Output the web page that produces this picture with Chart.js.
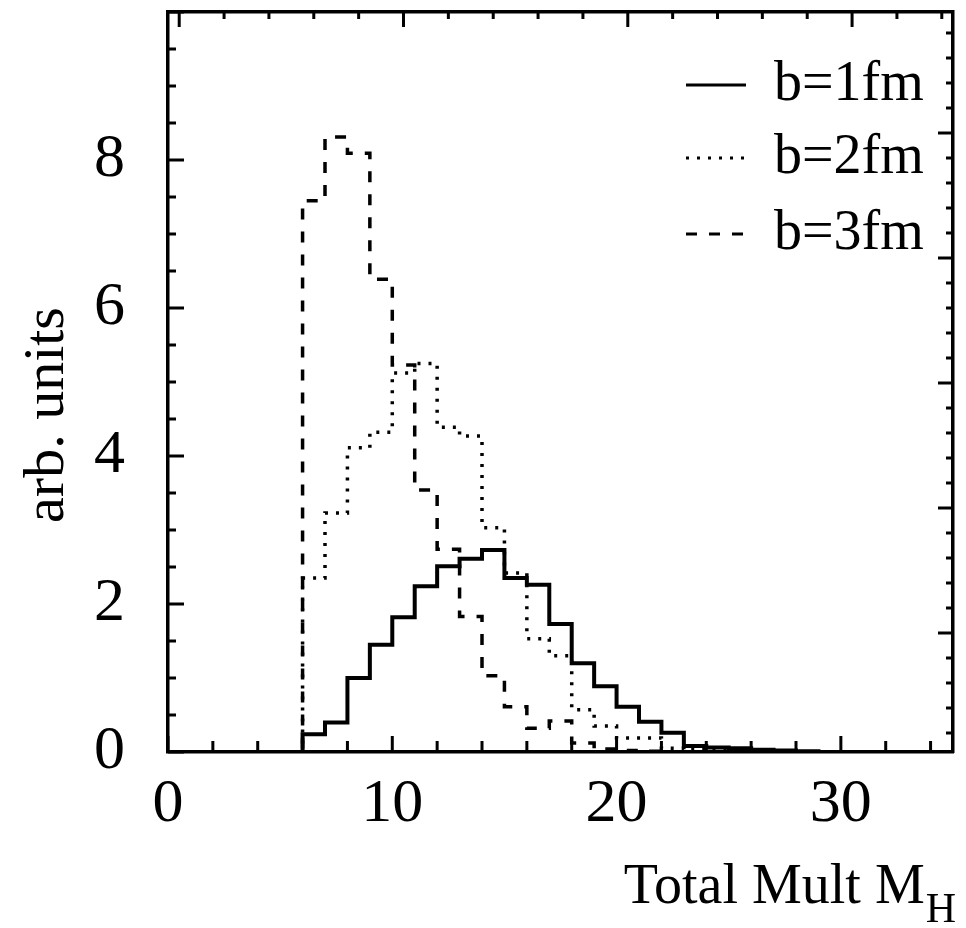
<!DOCTYPE html>
<html>
<head>
<meta charset="utf-8">
<title>Total Mult M_H</title>
<script src="https://cdn.jsdelivr.net/npm/chart.js@4/dist/chart.umd.min.js"></script>
<style>
  html, body { margin: 0; padding: 0; background: #fff; }
  #chart { display: block; }
</style>
</head>
<body>
<canvas id="chart" width="966" height="928"></canvas>
<script>
// lower edges of the multiplicity bins (last entry closes the final bin)
const multBins = [0, 1, 2, 3, 4, 5, 6, 7, 8, 9, 10, 11, 12, 13, 14, 15, 16, 17,
  18, 19, 20, 21, 22, 23, 24, 25, 26, 27, 28, 29, 30, 31, 32, 33, 34, 35];

// contents of each bin (arb. units)
const b1fm = [0, 0, 0, 0, 0, 0, 0.24, 0.40, 1.00, 1.45, 1.82, 2.24, 2.51, 2.61,
  2.73, 2.35, 2.26, 1.73, 1.20, 0.89, 0.61, 0.41, 0.26, 0.08, 0.06, 0.05, 0.03,
  0.02, 0.01, 0, 0, 0, 0, 0, 0];
const b2fm = [0, 0, 0, 0, 0, 0, 2.35, 3.23, 4.11, 4.32, 5.12, 5.25, 4.39, 4.27,
  3.03, 2.42, 1.53, 1.30, 0.57, 0.35, 0.19, 0.19, 0.05, 0.03, 0.02, 0.01, 0, 0,
  0, 0, 0, 0, 0, 0, 0];
const b3fm = [0, 0, 0, 0, 0, 0, 7.45, 8.31, 8.09, 6.39, 5.23, 3.54, 2.74, 1.83,
  1.03, 0.61, 0.32, 0.42, 0.12, 0.04, 0.02, 0.01, 0, 0, 0, 0, 0, 0, 0, 0, 0, 0,
  0, 0, 0];

const seriesLabels = ["b=1fm", "b=2fm", "b=3fm"];
const xTickLabels = [0, 10, 20, 30];
const yTickLabels = [0, 2, 4, 6, 8];

const FONT = '"Liberation Serif", "DejaVu Serif", serif';

// histogram -> step line points (value holds from its lower edge to the next)
function toSteps(values) {
  return multBins.map((x, i) => ({ x, y: values[Math.min(i, values.length - 1)] }));
}

function isMajor(v, every) {
  const r = v / every;
  return Math.abs(r - Math.round(r)) < 1e-6;
}

// no extra room for half labels at the ends of the axes
function noEndPadding(scale) {
  scale.paddingTop = 0;
  scale.paddingBottom = 0;
  scale.paddingLeft = 0;
  scale.paddingRight = 0;
}

// tick marks drawn inside the frame, like the original plot
const tickStyle = {
  x: { every: 10, majorLen: 16, minorLen: 11 },
  x2: { every: 10, majorLen: 15, minorLen: 7 },
  y: { every: 2, majorLen: 16, minorLen: 8 },
  y2: { every: 1, majorLen: 15, minorLen: 7 },
};

const innerTicks = {
  id: "innerTicks",
  afterDraw(chart) {
    const { ctx, chartArea: a } = chart;
    ctx.save();
    ctx.strokeStyle = "#000";
    ctx.lineWidth = 3;
    Object.keys(tickStyle).forEach((id) => {
      const s = tickStyle[id];
      const scale = chart.scales[id];
      scale.ticks.forEach((t) => {
        const len = isMajor(t.value, s.every) ? s.majorLen : s.minorLen;
        const p = scale.getPixelForValue(t.value);
        ctx.beginPath();
        if (scale.position === "bottom") {
          ctx.moveTo(p, a.bottom);
          ctx.lineTo(p, a.bottom - len);
        } else if (scale.position === "top") {
          ctx.moveTo(p, a.top);
          ctx.lineTo(p, a.top + len);
        } else if (scale.position === "left") {
          ctx.moveTo(a.left, p);
          ctx.lineTo(a.left + len, p);
        } else {
          ctx.moveTo(a.right, p);
          ctx.lineTo(a.right - len, p);
        }
        ctx.stroke();
      });
    });
    ctx.restore();
  },
};

// axis titles and the legend box in the upper right
const plotText = {
  id: "plotText",
  afterDraw(chart) {
    const ctx = chart.ctx;
    ctx.save();
    ctx.fillStyle = "#000";

    // y title
    ctx.font = `58px ${FONT}`;
    ctx.textAlign = "center";
    ctx.textBaseline = "middle";
    ctx.translate(48, 415);
    ctx.rotate(-Math.PI / 2);
    ctx.fillText("arb. units", 0, 0);
    ctx.setTransform(1, 0, 0, 1, 0, 0);

    // x title with subscript
    ctx.textBaseline = "alphabetic";
    ctx.textAlign = "right";
    ctx.font = `42px ${FONT}`;
    ctx.fillText("H", 956, 922);
    const hW = ctx.measureText("H").width;
    ctx.font = `56px ${FONT}`;
    ctx.fillText("Total Mult M", 956 - hW - 1, 903);

    // legend
    const rows = [85, 158, 234];
    chart.data.datasets.forEach((ds, i) => {
      ctx.beginPath();
      ctx.lineWidth = 3;
      ctx.strokeStyle = "#000";
      ctx.setLineDash(ds.borderDash || []);
      ctx.moveTo(686, rows[i]);
      ctx.lineTo(746, rows[i]);
      ctx.stroke();
      ctx.setLineDash([]);
      ctx.textAlign = "left";
      ctx.textBaseline = "middle";
      ctx.font = `56px ${FONT}`;
      ctx.fillText(ds.label, 774, rows[i]);
    });
    ctx.restore();
  },
};

const hiddenAxis = (position, min, max, step) => ({
  type: "linear",
  position,
  min,
  max,
  grid: { display: false, drawTicks: false },
  border: { display: true, color: "#000", width: 3.5 },
  ticks: { display: false, stepSize: step, includeBounds: false, autoSkip: false },
  afterFit(scale) {
    if (position === "top") scale.height = 0;
    else scale.width = 0;
    noEndPadding(scale);
  },
});

new Chart(document.getElementById("chart"), {
  type: "line",
  data: {
    datasets: [
      {
        label: seriesLabels[0],
        data: toSteps(b1fm),
        borderColor: "#000",
        borderWidth: 4,
        borderDash: [],
      },
      {
        label: seriesLabels[1],
        data: toSteps(b2fm),
        borderColor: "#000",
        borderWidth: 3.5,
        borderDash: [3, 8],
      },
      {
        label: seriesLabels[2],
        data: toSteps(b3fm),
        borderColor: "#000",
        borderWidth: 3.5,
        borderDash: [11, 12],
      },
    ].map((ds) => ({ ...ds, stepped: true, pointRadius: 0, fill: false })),
  },
  options: {
    responsive: false,
    animation: false,
    layout: { padding: { left: 0, right: 13, top: 12, bottom: 0 } },
    plugins: { legend: { display: false }, tooltip: { enabled: false } },
    scales: {
      x: {
        type: "linear",
        position: "bottom",
        min: 0,
        max: 35,
        grid: { display: false, drawTicks: false },
        border: { display: true, color: "#000", width: 3.5 },
        ticks: {
          stepSize: 2,
          includeBounds: false,
          autoSkip: false,
          maxRotation: 0,
          padding: 16,
          color: "#000",
          font: { family: FONT, size: 62 },
          callback: (v) => (xTickLabels.includes(v) ? String(v) : ""),
        },
        afterFit(scale) {
          scale.height = 176;
          noEndPadding(scale);
        },
      },
      y: {
        type: "linear",
        position: "left",
        min: 0,
        max: 10,
        grid: { display: false, drawTicks: false },
        border: { display: true, color: "#000", width: 3.5 },
        ticks: {
          stepSize: 0.5,
          autoSkip: false,
          padding: 43,
          color: "#000",
          font: { family: FONT, size: 62 },
          callback: (v) => (yTickLabels.includes(v) ? String(v) : ""),
        },
        afterFit(scale) {
          scale.width = 168;
          noEndPadding(scale);
        },
      },
      // frame top and right carry their own (offset) tick sets
      x2: hiddenAxis("top", -0.5, 34.5, 2),
      y2: hiddenAxis("right", 0.048, 5.968, 0.2),
    },
  },
  plugins: [innerTicks, plotText],
});
</script>
</body>
</html>
